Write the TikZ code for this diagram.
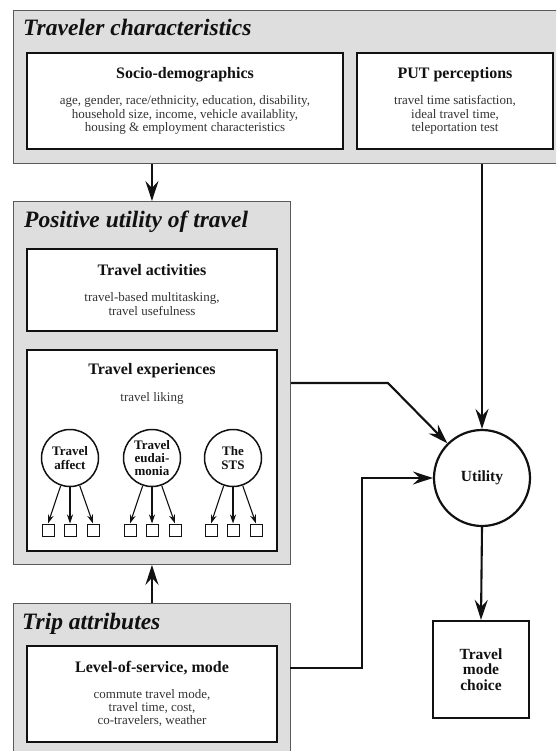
\documentclass[tikz,border=0pt]{standalone}
\usepackage{fontspec}
\setmainfont{Liberation Serif}
\usepackage{xcolor}
\usetikzlibrary{positioning,arrows.meta,calc}
\definecolor{panel}{HTML}{DEDEDE}
\definecolor{rim}{HTML}{5A5A5A}
\definecolor{ink}{HTML}{111111}
\definecolor{soft}{HTML}{333333}
\newcommand{\hd}[1]{{\color{ink}\fontsize{16}{17}\selectfont\bfseries #1}}
\tikzset{
  grp/.style={draw=rim, fill=panel, line width=0.9pt, anchor=north west, inner sep=0pt},
  grptitle/.style={anchor=base west, inner sep=0pt, text=ink,
                   font=\fontsize{23.5}{26}\selectfont\bfseries\itshape},
  card/.style={draw=ink, fill=white, line width=2.4pt, align=center, inner sep=4pt,
               text=soft, font=\fontsize{13}{13.3}\selectfont},
  arr/.style={-{Stealth[length=20pt,width=13pt,inset=7pt]}, line width=2.1pt, color=ink},
  thin/.style={-{Stealth[length=9pt,width=6pt,inset=3pt]}, line width=1.1pt, color=ink},
  latent/.style={circle, draw=ink, line width=1.5pt, minimum size=57pt, inner sep=0pt,
                 align=center, text=ink, font=\fontsize{13}{13.3}\selectfont\bfseries},
  item/.style={draw=ink, line width=1pt, minimum size=12pt, inner sep=0pt},
}

\begin{document}
\begin{tikzpicture}[x=1pt, y=-1pt]
  \path[use as bounding box, clip] (0,0) rectangle (556,751);

  % grey groups
  \node[grp, minimum width=560pt, minimum height=153pt] (travchar) at (13,10) {};
  \node[grp, minimum width=277pt, minimum height=363pt] (posutil)  at (13,201) {};
  \node[grp, minimum width=277pt, minimum height=170pt] (trip)     at (13,603) {};
  \node[grptitle] at (23,36)  {Traveler characteristics};
  \node[grptitle] at (24,227) {Positive utility of travel};
  \node[grptitle] at (22,629) {Trip attributes};

  % traveler characteristics
  \node[card, minimum width=316pt, minimum height=96pt] (socio) at (185,101)
    {\hd{Socio-demographics}\\[12.5pt]
     age, gender, race/ethnicity, education, disability,\\
     household size, income, vehicle availablity,\\
     housing \& employment characteristics};
  \node[card, minimum width=196pt, minimum height=96pt] (put) at (455,101)
    {\hd{PUT perceptions}\\[12.5pt]
     travel time satisfaction,\\ ideal travel time,\\ teleportation test};

  % positive utility of travel
  \node[card, minimum width=250pt, minimum height=82pt] (activ) at (152,290)
    {\hd{Travel activities}\\[12.5pt]
     travel-based multitasking,\\ travel usefulness};
  \node[card, minimum width=250pt, minimum height=201pt] (exper) at (152,450.5) {};
  \node[inner sep=0pt] (experttl) at (152,371) {\hd{Travel experiences}};
  \node[inner sep=0pt, text=soft, font=\fontsize{13}{13.3}\selectfont] (liking) at (152,398)
    {travel liking};

  \foreach \nm/\cx/\lbl in {aff/70/{Travel\\affect}, eud/152/{Travel\\eudai-\\monia}, sts/233/{The\\STS}} {
    \node[latent] (\nm) at (\cx,458) {\lbl};
    \foreach \k/\dx in {1/-22,2/0,3/23} {
      \node[item] (\nm\k) at (\cx+\dx,530) {};
      \draw[thin] (\nm) -- (\nm\k.north);
    }
  }

  % trip attributes
  \node[card, minimum width=250pt, minimum height=96pt] (level) at (152,694)
    {\hd{Level-of-service, mode}\\[12.5pt]
     commute travel mode,\\ travel time, cost,\\ co-travelers, weather};

  % utility and choice
  \node[circle, draw=ink, line width=2.2pt, minimum size=96pt, text=ink,
        font=\fontsize{15.5}{17}\selectfont\bfseries] (utility) at (482,478) {Utility};
  \node[card, minimum width=96pt, minimum height=97pt, line width=2.2pt, text=ink,
        font=\fontsize{15.5}{15.5}\selectfont\bfseries] (choice) at (481,669.5)
    {Travel\\mode\\choice};

  \coordinate (tripout) at (290,668);
  \coordinate (elbow) at (362,478);

  \draw[arr] (travchar.south -| posutil.north) -- (posutil.north);
  \draw[arr] (trip.north) -- (posutil.south);
  \draw[arr] (utility.north |- travchar.south) -- (utility.north);
  \draw[arr] (posutil.east) -- ++(97,0) -- (utility.135);
  \draw[arr] (tripout) -| (elbow) -- (utility.west);
  \draw[arr] (utility.south) -- (choice.north);
\end{tikzpicture}
\end{document}
